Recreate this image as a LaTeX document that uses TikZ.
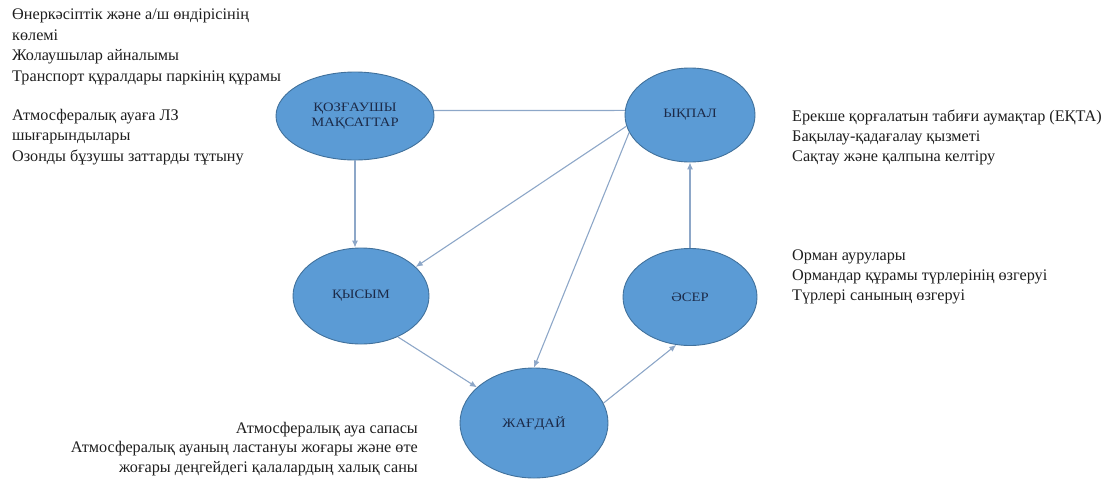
\documentclass[tikz,border=0pt]{standalone}
\usepackage{fontspec}
\setmainfont{Liberation Serif}
\newfontfamily\ellfont[FakeStretch=1.14]{Liberation Serif}
\usetikzlibrary{arrows.meta,shapes.geometric}
\definecolor{ellfill}{HTML}{5B9BD5}
\definecolor{elldraw}{HTML}{41719C}
\definecolor{elltext}{HTML}{1C2A48}
\definecolor{arrcol}{HTML}{8DA7C8}
\definecolor{sidetext}{HTML}{1E1E1E}
\tikzset{
  ell/.style={ellipse, fill=ellfill, draw=elldraw, line width=0.9pt, inner sep=0pt,
    text=elltext, align=center, font=\ellfont\fontsize{12.8}{15}\selectfont},
  conn/.style={draw=arrcol, line width=1.1pt},
  arr/.style={conn, -{Latex[length=7pt,width=6pt]}},
  side/.style={inner sep=0pt, text=sidetext, anchor=north west, align=left,
    font=\fontsize{16.2}{20.5}\selectfont},
  sider/.style={side, font=\fontsize{16.2}{20}\selectfont},
}
\begin{document}
\begin{tikzpicture}[x=1pt,y=-1pt]
\useasboundingbox (0,0) rectangle (1107,479);
\node[ell, minimum width=158pt, minimum height=88pt] (kz) at (355,116) {ҚОЗҒАУШЫ\\МАҚСАТТАР};
\node[ell, minimum width=130pt, minimum height=94pt] (yk) at (690,115) {ЫҚПАЛ};
\node[ell, minimum width=136pt, minimum height=96pt] (qs) at (361,296) {ҚЫСЫМ};
\node[ell, minimum width=134pt, minimum height=97pt] (as) at (690,297) {ӘСЕР};
\node[ell, minimum width=148pt, minimum height=110pt] (zh) at (534,423) {ЖАҒДАЙ};

\draw[conn] (kz.4) -- (yk.176);
\draw[arr] (kz.south) -- (kz.south |- qs.north);
\draw[arr] (yk.190) -- (qs.28);
\draw[arr] (yk.196) -- (zh.north);
\draw[arr] (qs.312) -- (zh.148);
\draw[arr] (zh.16) -- (as.254);
\draw[arr] (as.north) -- (yk.south);

\node[side] (t1) at (12,9)
  {Өнеркәсіптік және а/ш өндірісінің\\көлемі\\Жолаушылар айналымы\\Транспорт құралдары паркінің құрамы};
\node[side] (t2) at (12,109)
  {Атмосфералық ауаға ЛЗ\\шығарындылары\\Озонды бұзушы заттарды тұтыну};
\node[sider] (t3) at (792,110)
  {Ерекше қорғалатын табиғи аумақтар (ЕҚТА)\\Бақылау-қадағалау қызметі\\Сақтау және қалпына келтіру};
\node[sider] (t4) at (792,250)
  {Орман аурулары\\Ормандар құрамы түрлерінің өзгеруі\\Түрлері санының өзгеруі};
\node[side, anchor=north east, align=right, font=\fontsize{16.2}{19.5}\selectfont] (t5) at (418,422)
  {Атмосфералық ауа сапасы\\Атмосфералық ауаның ластануы жоғары және өте\\жоғары деңгейдегі қалалардың халық саны};
\end{tikzpicture}
\end{document}
